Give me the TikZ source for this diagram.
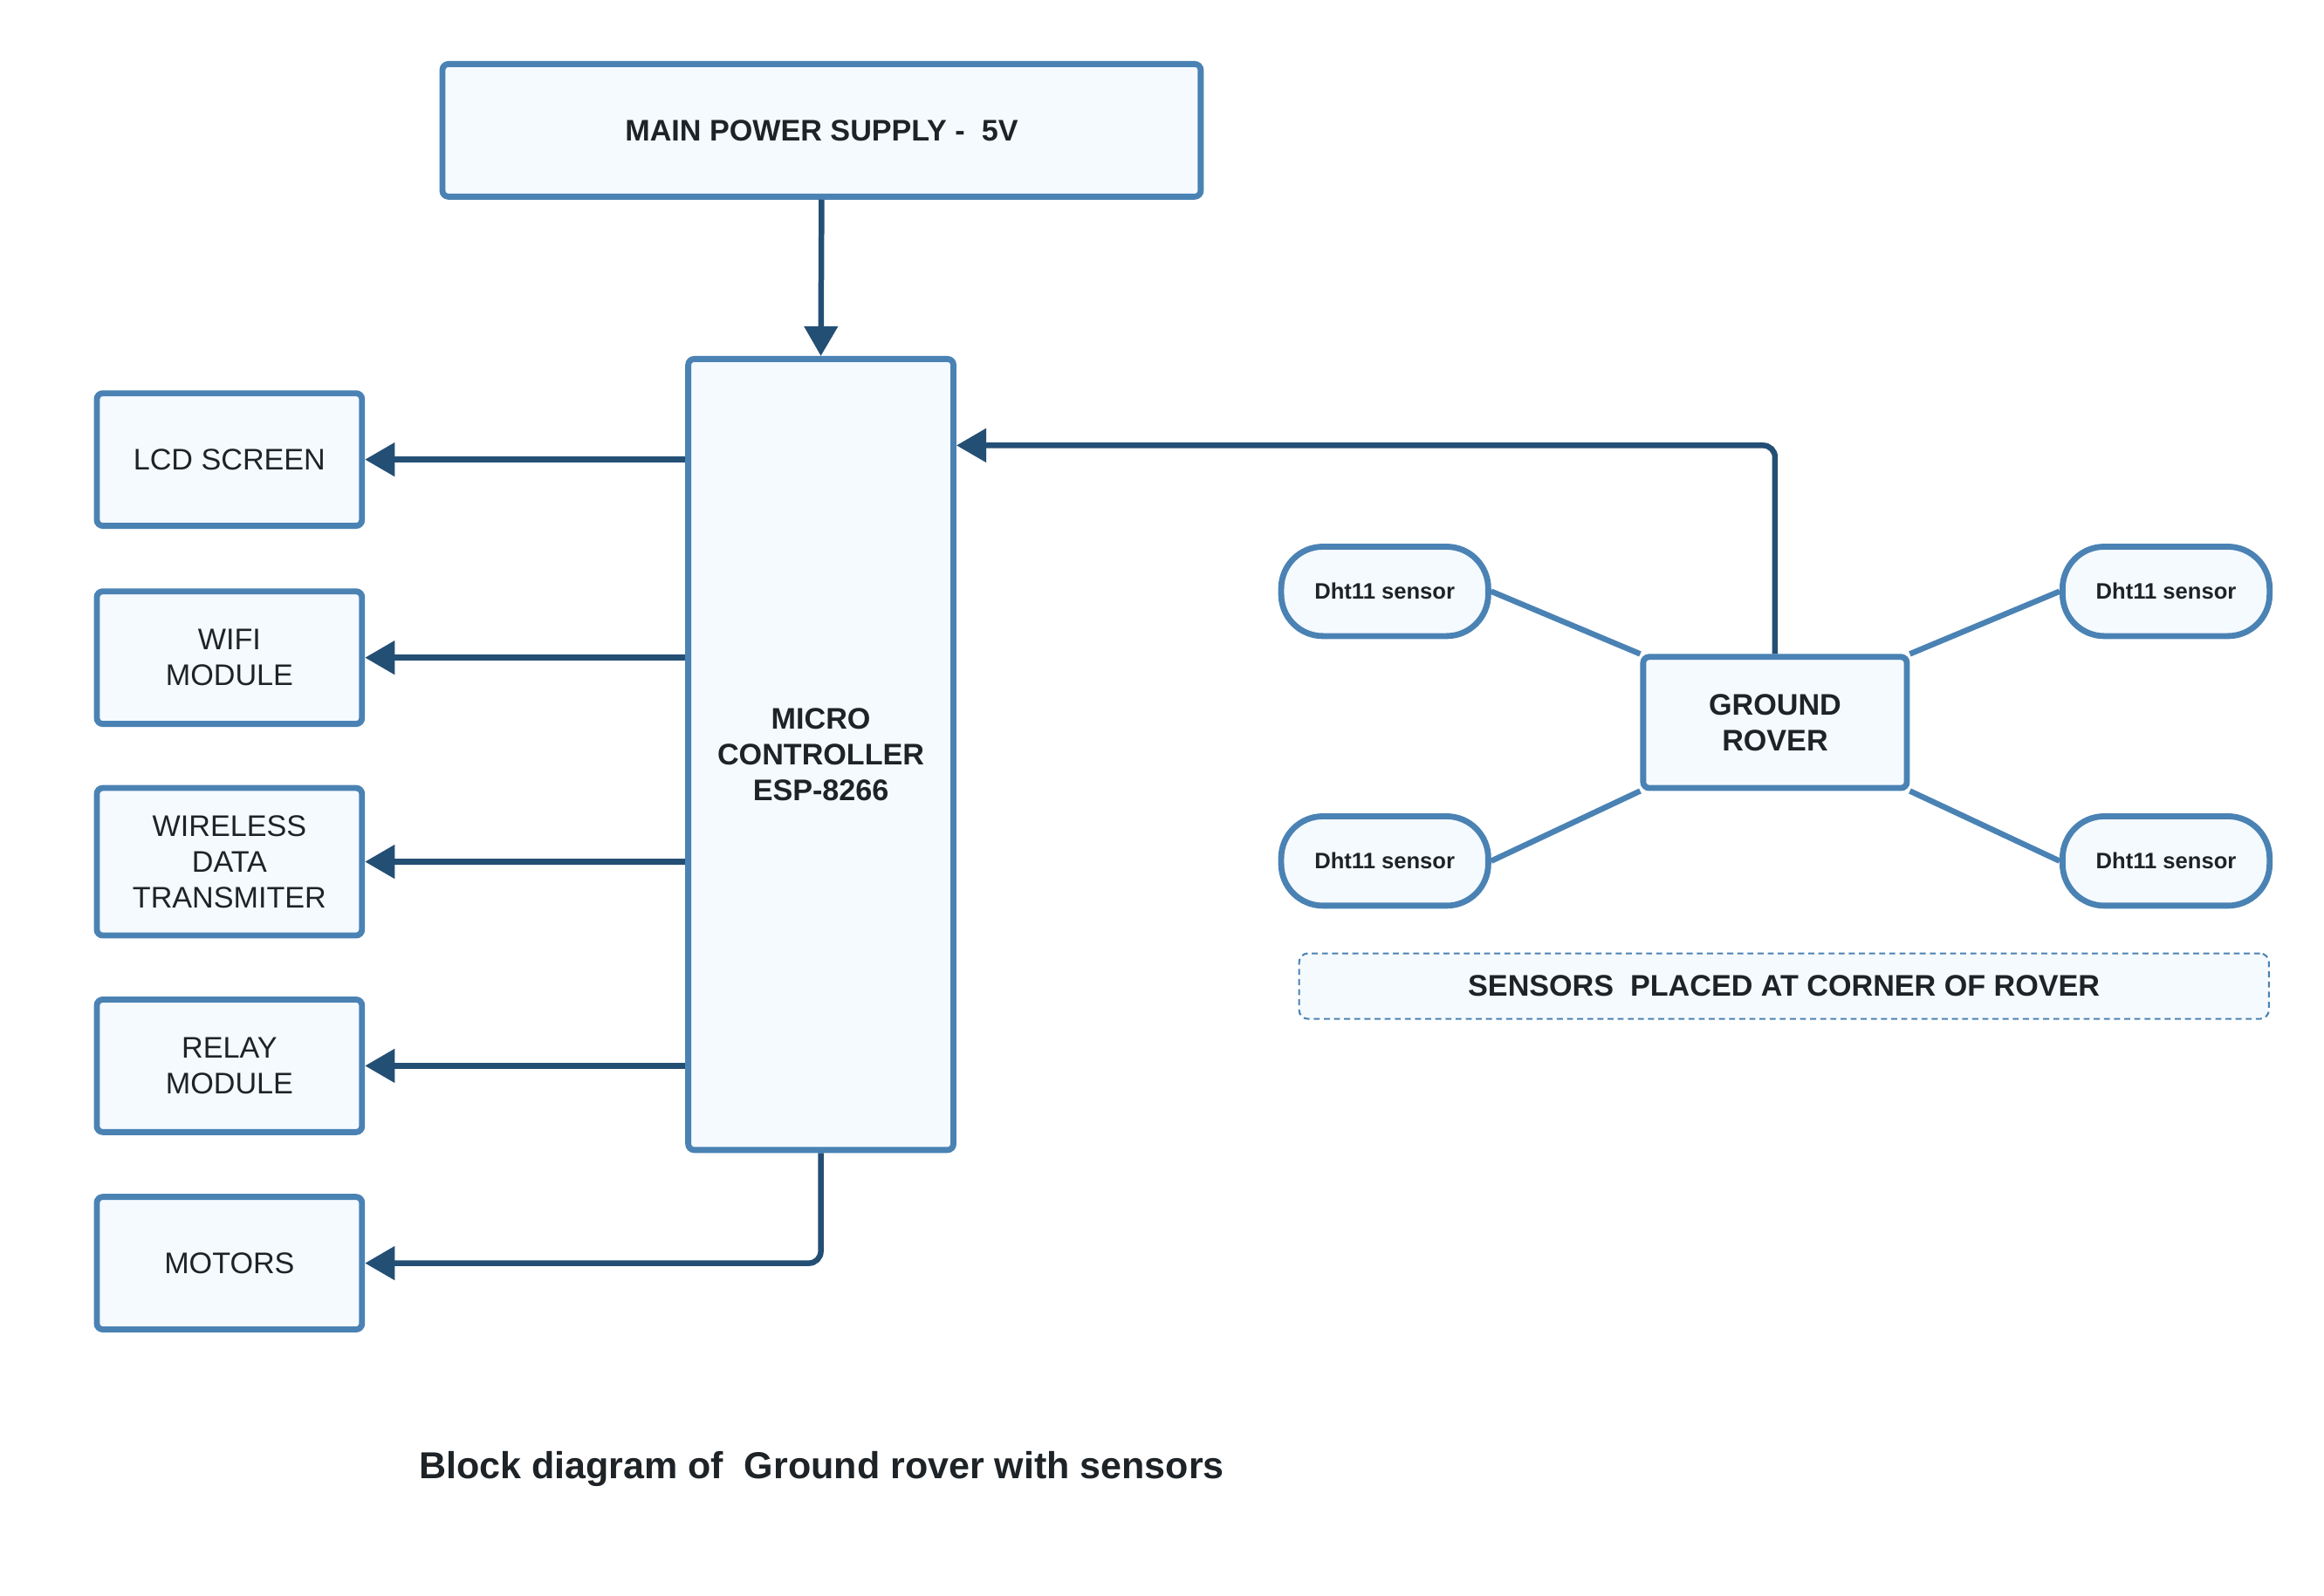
\documentclass[tikz,border=0pt]{standalone}
\usepackage{fontspec}
\setmainfont{Liberation Sans}
\usetikzlibrary{arrows.meta}
\definecolor{boxline}{RGB}{74,130,180}
\definecolor{boxfill}{RGB}{245,250,254}
\definecolor{arrowline}{RGB}{36,79,117}
\definecolor{txt}{RGB}{30,35,39}

\begin{document}
\begin{tikzpicture}[x=0.5pt, y=-0.5pt,
	block/.style={draw=boxline, fill=boxfill, line width=2pt, rounded corners=2pt, text=txt, align=center, inner sep=0pt, font=\fontsize{10}{12}\selectfont},
	sidebox/.style={block, minimum width=89pt, minimum height=44.5pt},
	sensor/.style={block, rounded corners=14pt, minimum width=69.5pt, minimum height=30pt, font=\fontsize{7.5}{9}\selectfont\bfseries},
	arr/.style={draw=arrowline, line width=1.9pt, -{Triangle[length=10pt, width=11pt]}},
	link/.style={draw=boxline, line width=1.9pt}]
	
	\useasboundingbox (0,0) rectangle (1560,1071);
	
	% Power supply and controller
	\node[block, minimum width=254.5pt, minimum height=44.5pt, font=\fontsize{10}{12}\selectfont\bfseries] (power) at (551.5,87.5) {MAIN POWER SUPPLY -\ \ 5V};
	\node[block, minimum width=89pt, minimum height=265.5pt, font=\fontsize{10}{12}\selectfont\bfseries] (micro) at (551,506.5) {MICRO\\CONTROLLER\\ESP-8266};
	
	% Output blocks
	\node[sidebox] (lcd) at (154,308.5) {LCD SCREEN};
	\node[sidebox] (wifi) at (154,441.5) {WIFI\\MODULE};
	\node[sidebox, minimum height=49.5pt] (wireless) at (154,578.5) {WIRELESS\\DATA\\TRANSMITER};
	\node[sidebox] (relay) at (154,715.5) {RELAY\\MODULE};
	\node[sidebox] (motors) at (154,848) {MOTORS};
	
	% Rover with its sensors
	\node[block, minimum width=88.5pt, minimum height=44pt, font=\fontsize{10}{12}\selectfont\bfseries] (rover) at (1191.5,485) {GROUND\\ROVER};
	\node[sensor] (dhtA) at (929.5,397) {Dht11 sensor};
	\node[sensor] (dhtB) at (1454,397) {Dht11 sensor};
	\node[sensor] (dhtC) at (929.5,578) {Dht11 sensor};
	\node[sensor] (dhtD) at (1454,578) {Dht11 sensor};
	
	% Note and caption
	\node[draw=boxline, fill=boxfill, line width=0.6pt, dash pattern=on 2pt off 1.4pt, rounded corners=3pt, minimum width=325.5pt, minimum height=22pt, text=txt, font=\fontsize{10}{12}\selectfont\bfseries] (note) at (1197.5,662) {SENSORS\ \ PLACED AT CORNER OF ROVER};
	\node[text=txt, font=\fontsize{12.6}{15}\selectfont\bfseries] (title) at (551.5,986) {Block diagram of\ \ Ground rover with sensors};
	
	% Arrows
	\draw[arr] (power.south) -- (micro.north);
	\draw[arr] (micro.west |- lcd.east) -- (lcd.east);
	\draw[arr] (micro.west |- wifi.east) -- (wifi.east);
	\draw[arr] (micro.west |- wireless.east) -- (wireless.east);
	\draw[arr] (micro.west |- relay.east) -- (relay.east);
	\draw[arr, rounded corners=4pt] (micro.south) |- (motors.east);
	\draw[arr, rounded corners=4pt] (rover.north) |- ([yshift=-30pt]micro.north east);
	
	% Sensor links
	\draw[link] (dhtA.east) -- (rover.north west);
	\draw[link] (dhtB.west) -- (rover.north east);
	\draw[link] (dhtC.east) -- (rover.south west);
	\draw[link] (dhtD.west) -- (rover.south east);
	
\end{tikzpicture}
\end{document}
